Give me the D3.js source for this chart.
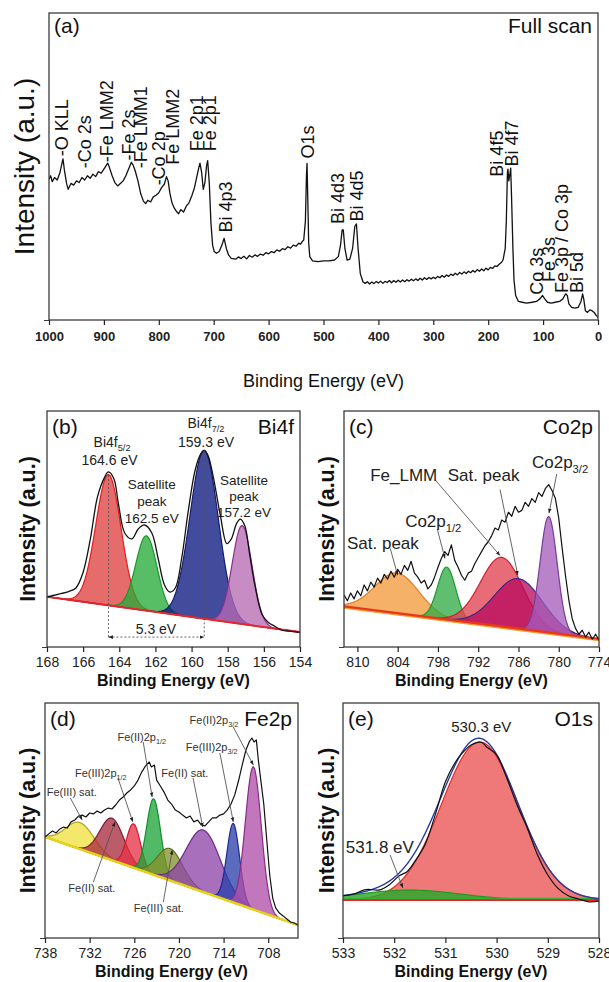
<!DOCTYPE html>
<html>
<head>
<meta charset="utf-8">
<script src="https://cdn.jsdelivr.net/npm/d3@7.9.0/dist/d3.min.js"></script>
<style>
  body { margin: 0; background: #fff; }
  svg { display: block; font-family: "Liberation Sans", Arial, Helvetica, sans-serif; }
</style>
</head>
<body>
<svg id="fig" width="609" height="982"></svg>
<script>
// ---------- (a) full scan ----------
const surveyEnergy = [1000,997,994,990,985,980,976,974.5,972,968,965,960,955,950,945,940,935,930,925,920,
  915,910,905,900,896,893,890,885,880,875,870,865,860,855,850,847,843,838,833,828,
  824,820,815,810,805,800,795,790,786,783,780,776,772,768,764,760,755,750,745,740,
  735,731,727,725,722,719,716,713,711,708,705,702,699,695,690,685,681,677,673,668,
  660,655,650,645,640,635,630,625,620,615,610,605,600,595,590,585,580,575,570,565,
  560,555,550,545,542,538,536,533,531,530,529,527,525,520,510,500,490,480,473,469,
  466,464,461,457,452,447,443,440,437,433,428,424,420,416,412,408,404,400,396,392,
  388,384,380,376,372,368,364,360,356,352,348,344,340,336,332,328,324,320,316,312,
  308,304,300,296,292,288,284,280,276,272,268,264,260,256,252,248,244,240,236,232,
  228,224,220,216,212,208,204,200,196,192,188,184,180,176,173,169,167,165,164,162.5,
  160,159,157.5,155,153,150,145,138,130,120,112,106,101,97,92,85,78,70,64,59,
  56,53,48,42,36,31,28,26,23,19,15,11,7,4,1,0];
const surveyIntensity = [50.0,51.2,49.1,50.6,49.7,52.4,56.0,57.2,53.3,48.5,46.4,48.5,47.9,49.4,48.8,50.6,49.7,51.2,50.3,51.8,
  50.9,52.7,52.1,53.6,54.8,55.7,54.2,51.2,48.8,47.6,48.5,49.4,51.2,53.6,56.0,55.1,53.0,49.4,44.9,42.2,
  41.3,42.5,41.9,43.7,44.3,45.2,47.0,48.2,50.9,49.4,45.2,41.6,39.8,38.6,37.7,39.2,38.3,40.4,41.6,44.0,
  47.0,50.6,54.2,55.7,52.4,46.4,48.8,54.8,56.6,48.5,34.4,26.6,24.3,23.7,24.3,26.6,29.0,25.4,23.1,21.9,
  21.6,22.4,21.8,22.6,21.7,22.9,22.3,23.1,22.6,23.4,23.0,23.9,23.5,24.3,23.9,24.9,24.4,25.3,25.0,26.0,
  25.5,26.6,26.2,27.3,26.9,28.0,28.4,35.0,51.5,55.6,46.5,27.5,22.5,21.0,20.7,21.0,21.0,21.3,22.5,26.6,
  32.0,32.0,25.4,21.3,21.6,25.4,33.2,34.1,25.4,16.5,13.5,13.0,13.6,12.8,13.5,12.9,13.7,13.1,13.8,13.0,
  13.7,13.3,14.0,13.2,14.0,13.4,14.1,13.5,14.2,13.6,14.3,13.8,14.5,13.9,14.6,14.0,14.8,14.2,15.0,14.4,
  15.1,14.6,15.2,14.7,15.5,15.0,15.8,15.2,16.0,15.5,16.3,15.8,16.6,16.0,16.9,16.3,17.1,16.5,17.3,16.8,
  17.6,17.0,17.9,17.3,18.1,17.5,18.4,17.8,18.7,18.3,19.2,19.0,19.8,20.4,21.3,25.4,35.0,52.4,53.6,49.4,
  52.4,53.9,44.0,25.4,14.1,8.7,6.6,6.3,6.0,6.3,6.6,7.5,8.7,7.5,6.3,6.0,6.3,6.6,7.5,9.3,
  8.7,5.7,4.5,4.2,4.5,6.6,9.3,7.5,3.3,2.7,3.6,3.3,2.7,1.8,1.2,0.9];
const surveyTicks = [1000,900,800,700,600,500,400,300,200,100,0];
const surveyLabelText = ['-O KLL','-Co 2s','-Fe LMM2','-Fe 2s','-Fe LMM1','-Co 2p','Fe LMM2','Fe 2p1','Fe 2p1',
  'Bi 4p3','O1s','Bi 4d3','Bi 4d5','Bi 4f5','Bi 4f7','Co 3s','Fe 3s','Fe 3p / Co 3p','Bi 5d'];
const surveyLabelE = [976.3,934.4,894.4,854.3,832.4,799.6,774.1,730.4,706.7,677.6,528.2,473.6,439.0,184,156.7,111.1,89.3,65.6,38.3];
const surveyLabelI = [58.1,53.9,56.0,56.6,53.9,47.8,55.1,59.9,59.9,31.1,57.3,34.1,35.0,50.9,54.5,9.0,13.5,9.6,9.6];

// ---------- (b) Bi4f ----------
const bi4fEnergy = [168.0,167.9,167.3,166.8,166.4,166.0,165.6,165.2,164.8,164.6,164.3,164.05,163.7,163.3,162.95,162.6,
  162.2,161.85,161.5,161.2,160.9,160.55,160.2,159.8,159.5,159.3,159.1,158.8,158.4,158.05,157.8,157.5,157.3,157.05,
  156.8,156.5,156.1,155.75,155.4,155.0,154.55,154.1,154.0];
const bi4fIntensity = [21.2,21.4,22.5,23.5,25.0,31.7,45.8,63.8,72.1,74.2,71.3,60.8,48.3,45.8,50.0,51.7,
  48.3,37.5,26.3,23.3,25.0,37.5,56.7,75.0,81.7,83.3,81.3,72.1,55.4,43.8,45.8,52.5,54.2,51.3,
  40.0,26.3,13.8,10.4,8.8,7.1,6.7,6.3,6.2];
const bi4fBackground = [21.3, 6.3];
const bi4fPeakCenter = [164.6, 162.5, 159.3, 157.2];
const bi4fPeakHeight = [55.4, 31.7, 71.3, 41.7];
const bi4fPeakFwhm = [1.64, 1.38, 1.84, 1.29];
const bi4fTicks = [168,166,164,162,160,158,156,154];

// ---------- (c) Co2p ----------
const co2pEnergy = [812.0,811.5,811.0,810.5,810.0,809.5,809.0,808.5,808.0,807.5,807.0,806.5,806.0,805.5,805.0,804.5,
  804.0,803.5,803.0,802.5,802.0,801.5,801.0,800.5,800.0,799.5,799.0,798.5,798.0,797.5,797.0,796.5,796.0,795.5,
  795.0,794.5,794.0,793.5,793.0,792.5,792.0,791.5,791.0,790.5,790.0,789.5,789.0,788.5,788.0,787.5,787.0,786.5,
  786.0,785.5,785.0,784.5,784.0,783.5,783.0,782.5,782.0,781.5,781.0,780.5,780.0,779.5,779.0,778.5,778.0,777.5,
  777.0,776.5,776.0,775.5,775.0,774.5,774.0];
const co2pIntensity = [22.1,19.6,22.9,20.4,23.8,21.7,26.3,23.8,27.5,25.4,29.2,27.1,30.8,28.8,32.1,29.6,
  32.9,30.8,34.6,32.5,36.3,31.3,29.6,27.1,28.3,24.6,26.3,29.6,33.8,37.5,40.4,38.8,43.3,36.7,
  33.8,30.4,28.3,31.3,32.1,35.4,37.9,40.4,42.9,44.6,47.1,50.4,49.6,53.8,52.9,57.1,55.4,59.6,
  57.1,57.9,61.3,59.6,62.9,61.3,65.4,63.8,67.1,68.8,66.3,62.9,54.6,42.1,30.4,20.0,12.1,7.9,
  5.4,7.1,4.2,6.3,3.3,5.4,2.9];
const co2pBackground = [17.1, 3.3];
const co2pPeakCenter = [804.1, 796.7, 788.5, 786.0, 781.5];
const co2pPeakHeight = [17.1, 22.3, 29.4, 21.3, 49.2];
const co2pPeakFwhm = [7.7, 3.2, 7.45, 8.4, 3.0];
const co2pTicks = [810,804,798,792,786,780,774];

// ---------- (d) Fe2p ----------
const fe2pEnergy = [738.0,737.5,737.0,736.5,736.0,735.5,735.0,734.5,734.0,733.5,733.0,732.5,732.0,731.5,731.0,730.5,
  730.0,729.5,729.0,728.5,728.0,727.5,727.0,726.5,726.0,725.5,725.0,724.5,724.0,723.7,723.3,723.0,722.5,722.0,
  721.5,721.0,720.5,720.0,719.5,719.0,718.5,718.0,717.5,717.0,716.5,716.0,715.5,715.0,714.5,714.0,713.5,713.0,
  712.5,712.0,711.5,711.0,710.5,710.2,709.9,709.6,709.3,709.0,708.6,708.2,707.8,707.4,707.0,706.5,706.0,705.5,
  705.0,704.5,704.0];
const fe2pIntensity = [43.0,44.3,45.5,44.7,46.4,47.2,46.8,49.4,50.2,51.9,52.3,51.5,53.2,52.8,54.0,53.2,
  54.5,55.3,54.9,56.6,58.7,60.0,61.7,63.0,64.7,67.2,70.6,73.2,74.9,72.8,73.6,67.2,64.7,62.1,
  58.7,57.0,54.5,53.6,52.3,51.1,51.9,49.4,50.2,48.1,47.7,49.4,51.1,51.1,52.3,52.8,54.5,57.0,
  60.9,66.8,73.6,80.0,83.8,85.1,83.4,84.3,74.9,67.2,57.0,41.7,26.8,17.0,12.8,10.6,9.4,8.1,
  6.8,6.4,5.5];
const fe2pBackground = [43.0, 5.5];
const fe2pPeakCenter = [733.3, 729.0, 726.1, 723.4, 721.2, 716.7, 712.7, 710.0];
const fe2pPeakHeight = [11.3, 17.9, 18.7, 32.3, 13.6, 26.4, 33.6, 60.7];
const fe2pPeakFwhm = [4.5, 3.8, 2.2, 2.2, 4.0, 5.4, 2.0, 2.5];
const fe2pTicks = [738,732,726,720,714,708];

// ---------- (e) O1s ----------
const o1sEnergy = [533.0,532.8,532.6,532.5,532.3,532.1,531.9,531.75,531.6,531.4,531.2,531.0,530.8,530.7,
  530.5,530.3,530.2,530.0,529.8,529.6,529.4,529.2,529.0,528.8,528.6,528.4,528.2,528.0];
const o1sIntensity = [18.0,18.6,20.4,20.7,20.4,22.6,26.5,28.2,32.5,39.6,52.3,66.5,75.0,77.9,
  82.1,83.3,81.4,77.9,68.0,56.6,46.7,35.3,26.8,21.1,18.0,16.6,15.4,15.7];
const o1sBackground = [16.2, 16.2];
const o1sPeakCenter = [530.33, 531.7];
const o1sPeakHeight = [67.2, 4.2];
const o1sPeakFwhm = [1.76, 2.3];
const o1sTicks = [533,532,531,530,529,528];

// ---------- annotations (text parts, energy, intensity) ----------
const bi4fNotes = [
  [[['Bi4f'],['5/2',1]], 164.4, 87.0], [[['164.6 eV']], 164.54, 79.2],
  [[['Satellite']], 162.2, 68.8], [[['peak']], 162.2, 61.7], [[['162.5 eV']], 162.2, 54.6],
  [[['Bi4f'],['7/2',1]], 159.2, 95.0], [[['159.3 eV']], 159.2, 86.7],
  [[['Satellite']], 157.1, 70.8], [[['peak']], 157.1, 63.8], [[['157.2 eV']], 157.1, 57.1]];
const co2pNotes = [
  [[['Co2p'],['3/2',1]], 779.8, 78.3], [[['Fe_LMM']], 803.1, 72.9], [[['Sat. peak']], 791.2, 72.9],
  [[['Co2p'],['1/2',1]], 798.7, 53.3], [[['Sat. peak']], 806.2, 44.2]];
const co2pPointers = [[780.3,73.3,781.45,56.7],[798.4,70.8,788.75,38.75],[788.75,66.7,786.1,30.4],
  [798.1,50.0,796.95,37.5],[805.1,41.7,804.0,30.4]];
const fe2pNotes = [
  [[['Fe(III) sat.']], 734.4, 62.1], [[['Fe(III)2p'],['1/2',1]], 730.5, 70.2],
  [[['Fe(II)2p'],['1/2',1]], 725.0, 85.5], [[['Fe(II) sat.']], 719.2, 70.2],
  [[['Fe(III)2p'],['3/2',1]], 715.6, 81.3], [[['Fe(II)2p'],['3/2',1]], 715.3, 92.8],
  [[['Fe(II) sat.']], 731.7, 21.3], [[['Fe(III) sat.']], 722.7, 12.8]];
const fe2pPointers = [[734.6,59.6,733.0,50.2],[728.2,68.1,726.2,49.4],[724.8,83.4,723.6,60.0],
  [718.1,68.1,716.8,47.2],[714.5,78.7,712.7,49.4],[712.7,89.8,710.0,73.6],
  [731.5,23.8,728.6,49.4],[722.1,15.3,720.9,37.4]];
const o1sNotes = [[[['530.3 eV']], 530.3, 89.8], [[['531.8 eV']], 532.28, 38.7]];
const o1sPointers = [[532.08,35.3,531.83,21.3]];

// ---------- drawing ----------
const FONT = '"Liberation Sans", Arial, Helvetica, sans-serif';
const svg = d3.select('#fig');
const defs = svg.append('defs');
defs.append('marker').attr('id', 'arrow').attr('viewBox', '0 0 10 10')
  .attr('refX', 10).attr('refY', 5).attr('markerWidth', 5).attr('markerHeight', 5)
  .attr('orient', 'auto-start-reverse')
  .append('path').attr('d', 'M0,1L10,5L0,9z').attr('fill', '#222');

const gauss = (E, c, h, w) => h * Math.exp(-4 * Math.LN2 * (E - c) * (E - c) / (w * w));

function setupPanel(box, xDomain, key, yMax = 100) {
  const x = d3.scaleLinear().domain(xDomain).range([box.left, box.right]);
  const y = d3.scaleLinear().domain([0, yMax]).range([box.bottom, box.top]);
  defs.append('clipPath').attr('id', 'clip-' + key).append('rect')
    .attr('x', box.left).attr('y', box.top)
    .attr('width', box.right - box.left).attr('height', box.bottom - box.top);
  const plot = svg.append('g').attr('clip-path', `url(#clip-${key})`);
  return { x, y, plot, box, xDomain };
}

function finishPanel(p, o) {
  const { box, x, y } = p;
  svg.append('rect').attr('x', box.left).attr('y', box.top)
    .attr('width', box.right - box.left).attr('height', box.bottom - box.top)
    .attr('fill', 'none').attr('stroke', '#3c3c3c').attr('stroke-width', 1.3);
  const ax = svg.append('g').attr('transform', `translate(0,${box.bottom})`)
    .call(d3.axisBottom(x).tickValues(o.ticks).tickSize(5).tickSizeOuter(0)
      .tickPadding(o.pad).tickFormat(d3.format('d')));
  ax.select('.domain').remove();
  ax.attr('font-family', FONT).attr('font-size', o.tickFont)
    .attr('font-weight', o.tickWeight).attr('color', '#222');
  ax.selectAll('line').attr('stroke-width', 1.2);
  svg.append('g').attr('transform', `translate(${box.left},0)`)
    .call(d3.axisLeft(y).tickValues([0]).tickSize(5).tickFormat(''))
    .call(g => g.select('.domain').remove())
    .attr('color', '#3c3c3c');
  svg.append('text').attr('x', (box.left + box.right) / 2).attr('y', box.bottom + o.titleDy)
    .attr('text-anchor', 'middle').attr('font-size', o.titleFont).attr('font-weight', o.titleWeight)
    .attr('fill', '#111').text('Binding Energy (eV)');
  svg.append('text')
    .attr('transform', `translate(${o.ylabX},${(box.top + box.bottom) / 2}) rotate(-90)`)
    .attr('text-anchor', 'middle').attr('dy', '0.35em')
    .attr('font-size', o.ylabFont).attr('font-weight', o.titleWeight)
    .attr('fill', '#111').text('Intensity (a.u.)');
  svg.append('text').attr('x', box.left + 5).attr('y', box.top + o.tagDy)
    .attr('font-size', o.tagFont).attr('fill', '#111').text(o.tag);
  svg.append('text').attr('x', box.right - 6).attr('y', box.top + o.tagDy)
    .attr('text-anchor', 'end').attr('font-size', o.tagFont).attr('fill', '#111').text(o.name);
}

function background(p, bg) {
  const [e0, e1] = p.xDomain;
  return E => bg[0] + (bg[1] - bg[0]) * (E - e0) / (e1 - e0);
}

function drawPeaks(p, bg, centers, heights, fwhms, fills, strokes, opacity) {
  const base = background(p, bg);
  const [e0, e1] = p.xDomain;
  const grid = d3.range(0, 501).map(i => e0 + (e1 - e0) * i / 500);
  centers.forEach((c, i) => {
    const pts = grid.map(E => [E, base(E), base(E) + gauss(E, c, heights[i], fwhms[i])]);
    p.plot.append('path').datum(pts)
      .attr('d', d3.area().x(d => p.x(d[0])).y0(d => p.y(d[1])).y1(d => p.y(d[2])))
      .attr('fill', fills[i]).attr('fill-opacity', opacity);
    p.plot.append('path').datum(pts)
      .attr('d', d3.line().x(d => p.x(d[0])).y(d => p.y(d[2])))
      .attr('fill', 'none').attr('stroke', strokes[i]).attr('stroke-width', 1.2);
  });
  return { base, grid };
}

function drawBackground(p, bg, color, width, shift = 0) {
  const base = background(p, bg);
  p.plot.append('path').datum(p.xDomain)
    .attr('d', d3.line().x(E => p.x(E)).y(E => p.y(base(E)) + shift))
    .attr('fill', 'none').attr('stroke', color).attr('stroke-width', width);
}

function drawSpectrum(p, energy, intensity, curve, width = 1.2, color = '#111') {
  p.plot.append('path').datum(energy.map((E, i) => [E, intensity[i]]))
    .attr('d', d3.line().curve(curve).x(d => p.x(d[0])).y(d => p.y(d[1])))
    .attr('fill', 'none').attr('stroke', color).attr('stroke-width', width)
    .attr('stroke-linejoin', 'round');
}

function richText(p, parts, E, I, size, color = '#222', weight = 'normal') {
  const t = svg.append('text').attr('x', p.x(E)).attr('y', p.y(I)).attr('dy', '0.35em')
    .attr('text-anchor', 'middle').attr('font-size', size)
    .attr('font-weight', weight).attr('fill', color);
  let low = false;
  parts.forEach(([s, sub]) => {
    const ts = t.append('tspan').text(s);
    if (sub && !low) { ts.attr('dy', size * 0.28).attr('font-size', size * 0.66); low = true; }
    else if (!sub && low) { ts.attr('dy', -size * 0.28); low = false; }
  });
}

function pointers(p, list, color = '#555') {
  list.forEach(([e0, i0, e1, i1]) => {
    svg.append('line').attr('x1', p.x(e0)).attr('y1', p.y(i0))
      .attr('x2', p.x(e1)).attr('y2', p.y(i1))
      .attr('stroke', color).attr('stroke-width', 0.9).attr('marker-end', 'url(#arrow)');
  });
}

// ----- panel (a) -----
const pa = setupPanel({ left: 49, right: 598, top: 13, bottom: 320 }, [1000, 0], 'a', 109);
drawSpectrum(pa, surveyEnergy, surveyIntensity, d3.curveLinear, 1.3);
finishPanel(pa, { ticks: surveyTicks, pad: 7, tickFont: 13, tickWeight: 'bold',
  titleDy: 67, titleFont: 18, titleWeight: 'normal', ylabX: 24, ylabFont: 28,
  tag: '(a)', name: 'Full scan', tagDy: 20, tagFont: 21 });
surveyLabelText.forEach((s, i) => {
  svg.append('text')
    .attr('transform', `translate(${pa.x(surveyLabelE[i])},${pa.y(surveyLabelI[i])}) rotate(-90)`)
    .attr('dy', '0.35em').attr('font-size', 18).attr('fill', '#111').text(s);
});

// ----- panel (b) -----
const pb = setupPanel({ left: 47, right: 300, top: 411, bottom: 647 }, [168, 154], 'b');
drawPeaks(pb, bi4fBackground, bi4fPeakCenter, bi4fPeakHeight, bi4fPeakFwhm,
  ['#de3e3e', '#26ab38', '#0a167e', '#b76ab3'], ['#e01e1e', '#169a2a', '#141c70', '#8e2e8e'], 0.77);
drawBackground(pb, bi4fBackground, '#e8262a', 2);
drawSpectrum(pb, bi4fEnergy, bi4fIntensity, d3.curveCatmullRom, 1.3);
const dotted = (e0, i0, e1, i1, arrows) => {
  const l = svg.append('line').attr('x1', pb.x(e0)).attr('y1', pb.y(i0))
    .attr('x2', pb.x(e1)).attr('y2', pb.y(i1))
    .attr('stroke', '#555').attr('stroke-width', 0.9).attr('stroke-dasharray', '2,2');
  if (arrows) l.attr('marker-start', 'url(#arrow)').attr('marker-end', 'url(#arrow)');
};
dotted(bi4fPeakCenter[0], 72.9, bi4fPeakCenter[0], 4.2, false);
dotted(bi4fPeakCenter[2], 83.3, bi4fPeakCenter[2], 4.2, false);
dotted(bi4fPeakCenter[0], 4.2, bi4fPeakCenter[2], 4.2, true);
richText(pb, [['5.3 eV']], 161.97, 7.6, 14);
finishPanel(pb, { ticks: bi4fTicks, pad: 5, tickFont: 14, tickWeight: 'normal',
  titleDy: 39, titleFont: 16, titleWeight: 'bold', ylabX: 27, ylabFont: 21.5,
  tag: '(b)', name: 'Bi4f', tagDy: 23, tagFont: 21 });
bi4fNotes.forEach(([parts, E, I], i) => richText(pb, parts, E, I, (i % 5 >= 2) ? 13.5 : 14));

// ----- panel (c) -----
const pc = setupPanel({ left: 344, right: 599, top: 411, bottom: 647 }, [812, 774], 'c');
drawPeaks(pc, co2pBackground, co2pPeakCenter, co2pPeakHeight, co2pPeakFwhm,
  ['#f39a3c', '#2fab45', '#e0404f', '#b80a5c', '#a45cbb'],
  ['#e08020', '#1c9a30', '#d0202e', '#3a2a8a', '#7a3a9a'], 0.77);
drawBackground(pc, co2pBackground, '#e8381c', 3);
drawBackground(pc, co2pBackground, '#f0a030', 1.2, 1.5);
drawSpectrum(pc, co2pEnergy, co2pIntensity, d3.curveLinear, 1.2);
finishPanel(pc, { ticks: co2pTicks, pad: 5, tickFont: 14, tickWeight: 'normal',
  titleDy: 39, titleFont: 16, titleWeight: 'bold', ylabX: 326, ylabFont: 21.5,
  tag: '(c)', name: 'Co2p', tagDy: 23, tagFont: 21 });
pointers(pc, co2pPointers);
co2pNotes.forEach(([parts, E, I]) => richText(pc, parts, E, I, 17));

// ----- panel (d) -----
const pd = setupPanel({ left: 45, right: 298, top: 703, bottom: 938 }, [738, 704], 'd');
drawPeaks(pd, fe2pBackground, fe2pPeakCenter, fe2pPeakHeight, fe2pPeakFwhm,
  ['#f0e040', '#a82a3c', '#e63246', '#1ea438', '#83922a', '#8e44a8', '#2a40aa', '#b04ea8'],
  ['#b0a020', '#801830', '#d01830', '#10902a', '#607020', '#6a2a8a', '#1a2a90', '#8a2a8a'], 0.77);
drawBackground(pd, fe2pBackground, '#e8d21a', 2.5);
drawSpectrum(pd, fe2pEnergy, fe2pIntensity, d3.curveLinear, 1.2);
finishPanel(pd, { ticks: fe2pTicks, pad: 5, tickFont: 14, tickWeight: 'normal',
  titleDy: 39, titleFont: 16, titleWeight: 'bold', ylabX: 27, ylabFont: 21.5,
  tag: '(d)', name: 'Fe2p', tagDy: 23, tagFont: 21 });
pointers(pd, fe2pPointers);
fe2pNotes.forEach(([parts, E, I]) => richText(pd, parts, E, I, 11, '#333'));

// ----- panel (e) -----
const pe = setupPanel({ left: 343, right: 599, top: 703, bottom: 938 }, [533, 528], 'e');
const fitE = drawPeaks(pe, o1sBackground, o1sPeakCenter, o1sPeakHeight, o1sPeakFwhm,
  ['#ec5c5c', '#2aa82a'], ['#e02a2a', '#1f9a1f'], 0.82);
drawBackground(pe, o1sBackground, '#e82828', 2);
drawBackground(pe, o1sBackground, '#36b036', 1.2, -1.5);
const envelope = fitE.grid.map(E => fitE.base(E) + o1sPeakCenter.reduce((s, c, i) =>
  s + gauss(E, c, o1sPeakHeight[i], o1sPeakFwhm[i]), 0));
drawSpectrum(pe, fitE.grid, envelope, d3.curveLinear, 1.4, '#2a3c9c');
drawSpectrum(pe, o1sEnergy, o1sIntensity, d3.curveCatmullRom, 1.2);
finishPanel(pe, { ticks: o1sTicks, pad: 5, tickFont: 14, tickWeight: 'normal',
  titleDy: 39, titleFont: 16, titleWeight: 'bold', ylabX: 326, ylabFont: 21.5,
  tag: '(e)', name: 'O1s', tagDy: 23, tagFont: 21 });
pointers(pe, o1sPointers);
richText(pe, o1sNotes[0][0], o1sNotes[0][1], o1sNotes[0][2], 15);
richText(pe, o1sNotes[1][0], o1sNotes[1][1], o1sNotes[1][2], 17);
</script>
</body>
</html>
